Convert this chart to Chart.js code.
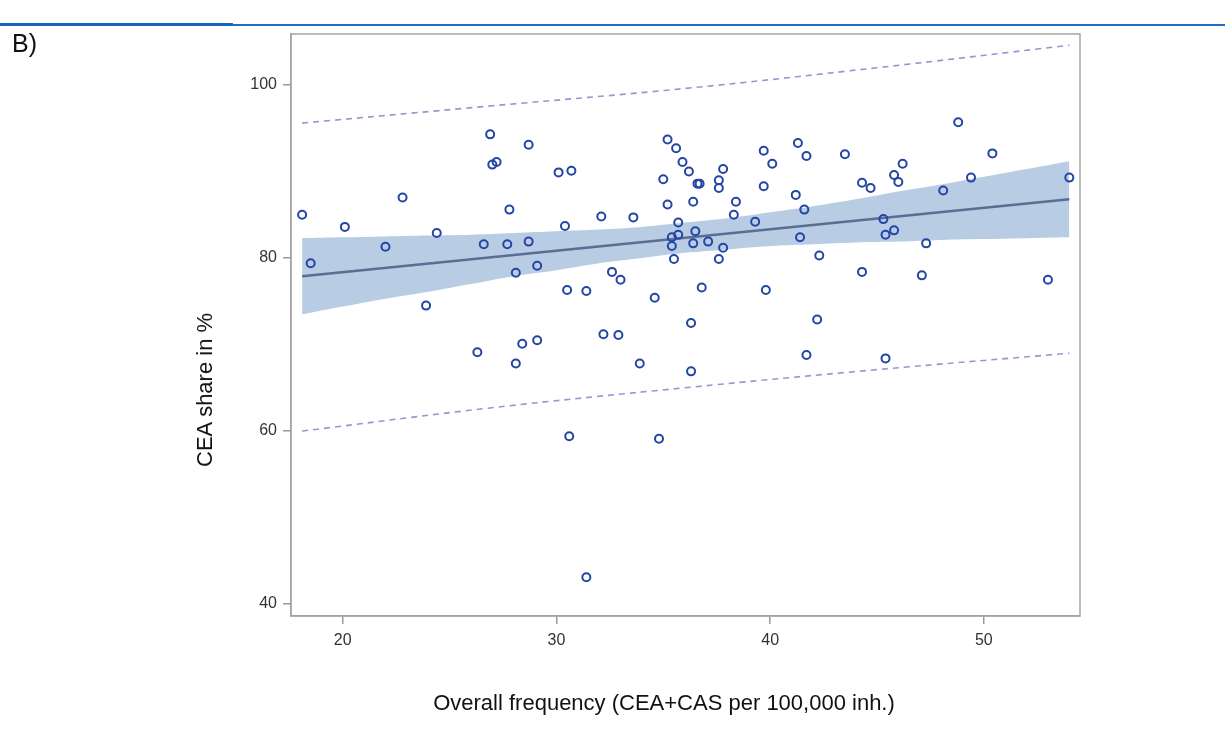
<!DOCTYPE html>
<html>
<head>
<meta charset="utf-8">
<title>CEA share vs overall frequency</title>
<script src="https://cdn.jsdelivr.net/npm/chart.js@4.4.1/dist/chart.umd.min.js"></script>
<style>
    body { margin: 0; background: #fff; }
    #wrap { position: relative; width: 1225px; height: 740px; font-family: "Liberation Sans", Arial, sans-serif; color: #111; }
    #wrap canvas { position: absolute; left: 0; top: 0; }
    .rule_thick { position: absolute; left: 0; top: 23px; width: 233px; height: 3px; background: #1467bd; }
    .rule_thin { position: absolute; left: 233px; top: 24px; width: 992px; height: 2px; background: #1b6ec2; }
    .panel { position: absolute; left: 12px; top: 29px; font-size: 25px; }
    .y_title { position: absolute; left: 205px; top: 390px; transform: translate(-50%, -50%) rotate(-90deg); font-size: 22px; white-space: nowrap; }
    .x_title { position: absolute; left: 664px; top: 703px; transform: translate(-50%, -50%); font-size: 22px; white-space: nowrap; }
</style>
</head>
<body>
<div id="wrap">
    <canvas id="ctx_cea" width="1225" height="740"></canvas>
    <div class="rule_thick"></div>
    <div class="rule_thin"></div>
    <div class="panel">B)</div>
    <div class="y_title">CEA share in %</div>
    <div class="x_title">Overall frequency (CEA+CAS per 100,000 inh.)</div>
</div>
<script>
const xTickValues = [20, 30, 40, 50];
const yTickValues = [40, 60, 80, 100];

// observed regions: overall frequency (x) and CEA share (y)
const freq = [18.1, 18.5, 20.1, 22.0, 22.8, 24.4, 23.9, 26.9, 27.0, 27.2,
    28.7, 26.6, 27.8, 27.7, 28.7, 28.1, 29.1, 26.3, 28.4, 29.1,
    28.1, 30.1, 30.7, 30.4, 30.5, 31.4, 30.6, 31.4, 32.1, 33.6,
    32.6, 33.0, 32.2, 32.9, 33.9, 34.6, 34.8, 35.2, 35.6, 35.9,
    36.2, 35.0, 36.6, 36.7, 37.8, 37.6, 37.6, 35.2, 36.4, 38.4,
    38.3, 39.3, 39.7, 40.1, 39.7, 41.3, 41.7, 41.2, 41.6, 41.4,
    42.3, 35.7, 35.7, 35.4, 35.4, 35.5, 36.5, 36.4, 37.1, 37.8,
    37.6, 36.8, 39.8, 36.3, 36.3, 42.2, 41.7, 43.5, 44.3, 44.7,
    45.8, 46.2, 46.0, 48.8, 50.4, 49.4, 48.1, 54.0, 45.3, 45.8,
    45.4, 47.3, 44.3, 47.1, 53.0, 45.4];
const ceaShare = [85.0, 79.4, 83.6, 81.3, 87.0, 82.9, 74.5, 94.3, 90.8, 91.1,
    93.1, 81.6, 85.6, 81.6, 81.9, 78.3, 79.1, 69.1, 70.1, 70.5,
    67.8, 89.9, 90.1, 83.7, 76.3, 76.2, 59.4, 43.1, 84.8, 84.7,
    78.4, 77.5, 71.2, 71.1, 67.8, 75.4, 59.1, 93.7, 92.7, 91.1,
    90.0, 89.1, 88.6, 88.6, 90.3, 89.0, 88.1, 86.2, 86.5, 86.5,
    85.0, 84.2, 92.4, 90.9, 88.3, 93.3, 91.8, 87.3, 85.6, 82.4,
    80.3, 84.1, 82.7, 82.4, 81.4, 79.9, 83.1, 81.7, 81.9, 81.2,
    79.9, 76.6, 76.3, 72.5, 66.9, 72.9, 68.8, 92.0, 88.7, 88.1,
    89.6, 90.9, 88.8, 95.7, 92.1, 89.3, 87.8, 89.3, 84.5, 83.2,
    82.7, 81.7, 78.4, 78.0, 77.5, 68.4];

// fitted line
const fitX = [18.1, 54.0];
const fitY = [77.9, 86.8];

// 95% confidence band of the fit
const bandX = [18.1, 20, 22, 24, 26, 28, 30, 32, 34, 36, 38, 40, 42, 44, 46, 48, 50, 52, 54];
const bandUpper = [82.3, 82.4, 82.5, 82.6, 82.7, 82.9, 83.1, 83.3, 83.6, 84.1, 84.6, 85.3, 86.0, 86.8, 87.7, 88.5, 89.4, 90.3, 91.2];
const bandLower = [73.5, 74.4, 75.3, 76.1, 77.0, 77.9, 78.6, 79.4, 80.0, 80.6, 81.0, 81.4, 81.6, 81.8, 81.9, 82.1, 82.2, 82.3, 82.4];

// 95% prediction limits
const predX = [18.1, 27, 36, 45, 54];
const predUpper = [95.6, 97.6, 99.6, 102.0, 104.6];
const predLower = [60.0, 62.7, 65.0, 67.1, 69.0];

const pts = (xs, ys) => xs.map((x, i) => ({ x: x, y: ys[i] }));

const tickFont = { family: 'Liberation Sans', size: 16 };
const axisGray = '#a5a5a5';

// full box round the plot area
const frame = {
    id: 'frame',
    afterDatasetsDraw(chart) {
        const { ctx, chartArea } = chart;
        ctx.save();
        ctx.strokeStyle = axisGray;
        ctx.lineWidth = 1.5;
        ctx.strokeRect(chartArea.left, chartArea.top, chartArea.right - chartArea.left, chartArea.bottom - chartArea.top);
        ctx.restore();
    }
};

new Chart(document.getElementById('ctx_cea'), {
    type: 'scatter',
    data: {
        datasets: [{
            type: 'scatter',
            label: 'Regions',
            data: pts(freq, ceaShare),
            pointStyle: 'circle',
            pointRadius: 4,
            borderWidth: 2,
            pointBorderWidth: 2,
            borderColor: '#2445a6',
            backgroundColor: 'rgba(0,0,0,0)',
            order: 0
        },
        {
            type: 'line',
            label: 'Fit',
            data: pts(fitX, fitY),
            borderColor: '#5a6d92',
            borderWidth: 2.5,
            pointRadius: 0,
            order: 1
        },
        {
            type: 'line',
            label: 'Prediction upper',
            data: pts(predX, predUpper),
            borderColor: '#8f9ad2',
            borderWidth: 1.6,
            borderDash: [6, 5],
            pointRadius: 0,
            tension: 0.4,
            order: 2
        },
        {
            type: 'line',
            label: 'Prediction lower',
            data: pts(predX, predLower),
            borderColor: '#8f9ad2',
            borderWidth: 1.6,
            borderDash: [6, 5],
            pointRadius: 0,
            tension: 0.4,
            order: 2
        },
        {
            type: 'line',
            label: 'Confidence upper',
            data: pts(bandX, bandUpper),
            borderWidth: 0,
            borderColor: 'rgba(0,0,0,0)',
            backgroundColor: '#b8cce4',
            fill: '+1',
            pointRadius: 0,
            tension: 0.4,
            order: 3
        },
        {
            type: 'line',
            label: 'Confidence lower',
            data: pts(bandX, bandLower),
            borderWidth: 0,
            borderColor: 'rgba(0,0,0,0)',
            fill: false,
            pointRadius: 0,
            tension: 0.4,
            order: 3
        }]
    },
    options: {
        responsive: false,
        devicePixelRatio: 1,
        animation: false,
        layout: {
            padding: { top: 34, right: 145, left: 0, bottom: 0 }
        },
        scales: {
            x: {
                type: 'linear',
                min: 17.58,
                max: 54.5,
                afterBuildTicks: s => { s.ticks = xTickValues.map(v => ({ value: v })); },
                afterFit: s => { s.height = 124; },
                grid: {
                    drawOnChartArea: false,
                    drawTicks: true,
                    tickLength: 8,
                    lineWidth: 1.5,
                    color: '#999'
                },
                border: { color: axisGray, width: 1.5 },
                ticks: { font: tickFont, color: '#333', padding: 7 }
            },
            y: {
                type: 'linear',
                min: 38.62,
                max: 105.9,
                afterBuildTicks: s => { s.ticks = yTickValues.map(v => ({ value: v })); },
                afterFit: s => { s.width = 291; },
                grid: {
                    drawOnChartArea: false,
                    drawTicks: true,
                    tickLength: 8,
                    lineWidth: 1.5,
                    color: '#999'
                },
                border: { color: axisGray, width: 1.5 },
                ticks: { font: tickFont, color: '#333', padding: 6 }
            }
        },
        plugins: {
            legend: { display: false },
            tooltip: { enabled: false }
        }
    },
    plugins: [frame]
});
</script>
</body>
</html>
